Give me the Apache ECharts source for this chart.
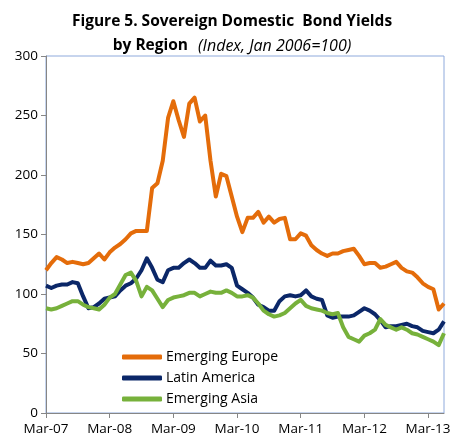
<!DOCTYPE html>
<html>
<head>
<meta charset="utf-8">
<script src="https://cdn.jsdelivr.net/npm/echarts@6/dist/echarts.min.js"></script>
<style>
  html, body { margin: 0; padding: 0; background: #fff; }
  #chart { width: 464px; height: 442px; }
</style>
</head>
<body>
<div id="chart"></div>
<script>
// Monthly observations, Mar-2007 .. Jun-2013 (index, Jan 2006 = 100)
const monthNames = ['Jan','Feb','Mar','Apr','May','Jun','Jul','Aug','Sep','Oct','Nov','Dec'];
const months = [];
for (let k = 0; k < 76; k++) {
  const m = (2 + k) % 12;
  const y = 7 + Math.floor((2 + k) / 12);
  months.push(monthNames[m] + '-' + String(y).padStart(2, '0'));
}

const emergingEurope = [
  120, 126, 131, 129, 126, 127, 126, 125, 126, 130,
  134, 129, 135, 139, 142, 146, 151, 153, 153, 153,
  189, 193, 212, 248, 262, 246, 232, 260, 265, 245,
  250, 212, 182, 201, 199, 182, 165, 152, 164, 164,
  169, 160, 165, 160, 163, 164, 146, 146, 151, 149,
  141, 137, 134, 132, 134, 134, 136, 137, 138, 132,
  125, 126, 126, 122, 123, 125, 127, 122, 119, 118,
  114, 109, 106, 104, 87, 92
];

const latinAmerica = [
  107, 105, 107, 108, 108, 110, 109, 98, 88, 89,
  92, 96, 97, 98, 103, 107, 109, 113, 120, 130,
  122, 112, 110, 120, 122, 122, 126, 129, 126, 122,
  122, 128, 124, 124, 125, 122, 107, 104, 101, 97,
  91, 89, 86, 86, 94, 98, 99, 98, 99, 103,
  98, 96, 95, 82, 80, 81, 81, 81, 82, 85,
  88, 86, 83, 78, 72, 73, 73, 74, 75, 73,
  72, 69, 68, 67, 70, 77
];

const emergingAsia = [
  88, 87, 88, 90, 92, 94, 94, 91, 89, 88,
  87, 91, 97, 100, 108, 116, 118, 111, 98, 106,
  103, 96, 89, 95, 97, 98, 99, 101, 101, 98,
  100, 102, 101, 101, 103, 101, 98, 98, 99, 97,
  92, 86, 83, 81, 82, 84, 88, 92, 95, 90,
  88, 87, 86, 84, 83, 84, 72, 64, 62, 60,
  65, 67, 70, 79, 74, 72, 70, 72, 70, 67,
  66, 64, 62, 60, 57, 67
];

const yTicks = { min: 0, max: 300, interval: 50 };

const chart = echarts.init(document.getElementById('chart'), null, { renderer: 'canvas' });

const fontFamily = '"Open Sans", "Liberation Sans", sans-serif';

chart.setOption({
  animation: false,
  backgroundColor: '#ffffff',
  title: {
    left: 'center',
    top: 5,
    text: '{b|Figure 5. Sovereign Domestic  Bond Yields}\n{b|by Region}  {i|(Index, Jan 2006=100)}',
    textStyle: {
      rich: {
        b: { fontFamily: fontFamily, fontSize: 15.5, fontWeight: 'bold', color: '#000', lineHeight: 24 },
        i: { fontFamily: fontFamily, fontSize: 16, fontWeight: 'normal', fontStyle: 'italic', color: '#000', lineHeight: 24 }
      }
    }
  },
  grid: {
    left: 46, right: 20, top: 56, bottom: 29,
    show: true,
    borderColor: '#8FAADC',
    borderWidth: 1
  },
  legend: {
    orient: 'vertical',
    left: 117,
    top: 345,
    itemWidth: 40,
    itemHeight: 5,
    itemGap: 7,
    icon: 'roundRect',
    textStyle: { fontFamily: fontFamily, fontSize: 14, color: '#000', padding: [0, 0, 0, -1] },
    data: ['Emerging Europe', 'Latin America', 'Emerging Asia']
  },
  xAxis: {
    type: 'category',
    data: months,
    boundaryGap: false,
    axisLine: { lineStyle: { color: '#868686', width: 1 } },
    axisTick: {
      show: true,
      length: 5,
      interval: function (i) { return i % 12 === 0; },
      lineStyle: { color: '#868686' }
    },
    axisLabel: {
      interval: function (i) { return i % 12 === 0; },
      fontFamily: fontFamily,
      fontSize: 13.5,
      color: '#000',
      margin: 9
    },
    splitLine: { show: false }
  },
  yAxis: {
    type: 'value',
    min: yTicks.min,
    max: yTicks.max,
    interval: yTicks.interval,
    axisLine: { show: true, lineStyle: { color: '#868686', width: 1 } },
    axisTick: { show: true, length: 5, lineStyle: { color: '#868686' } },
    axisLabel: { fontFamily: fontFamily, fontSize: 13.5, color: '#000', margin: 8 },
    splitLine: { show: false }
  },
  series: [
    {
      name: 'Emerging Europe',
      type: 'line',
      data: emergingEurope,
      symbol: 'none',
      lineStyle: { color: '#E46C0A', width: 4, join: 'round' },
      itemStyle: { color: '#E46C0A' },
      z: 3
    },
    {
      name: 'Latin America',
      type: 'line',
      data: latinAmerica,
      symbol: 'none',
      lineStyle: { color: '#0B2768', width: 4, join: 'round' },
      itemStyle: { color: '#0B2768' },
      z: 2
    },
    {
      name: 'Emerging Asia',
      type: 'line',
      data: emergingAsia,
      symbol: 'none',
      lineStyle: { color: '#77B13B', width: 4, join: 'round' },
      itemStyle: { color: '#77B13B' },
      z: 4
    }
  ]
});
</script>
</body>
</html>
